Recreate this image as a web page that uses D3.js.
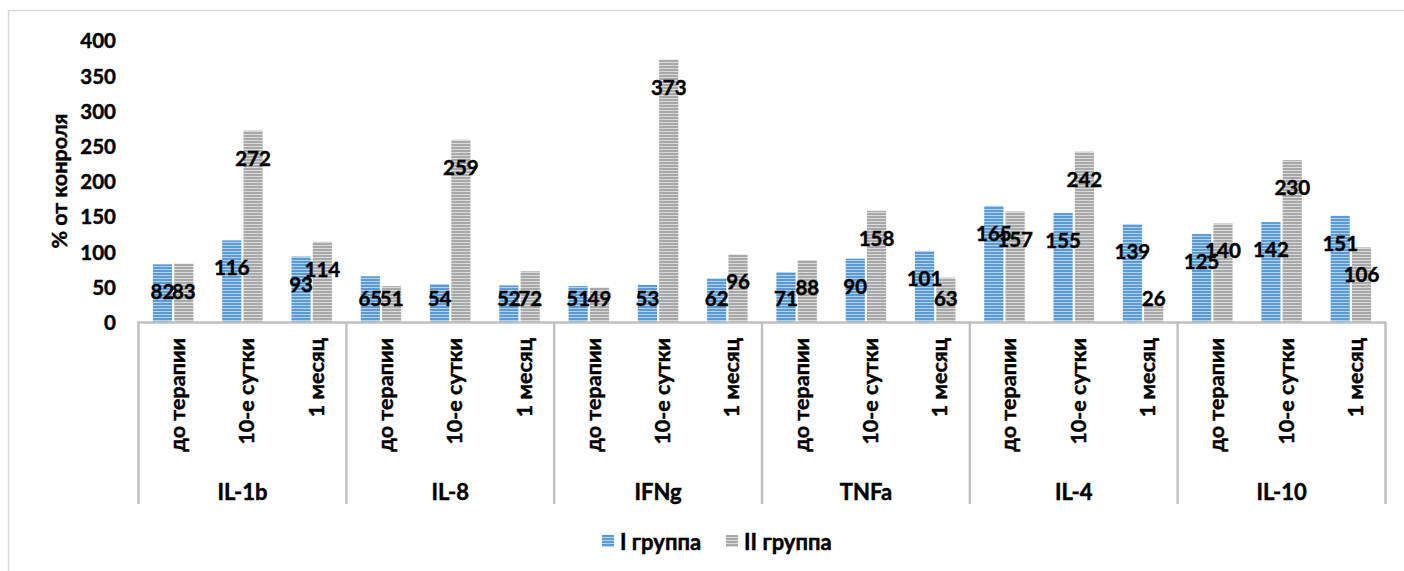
<!DOCTYPE html>
<html>
<head>
<meta charset="utf-8">
<script src="https://cdn.jsdelivr.net/npm/d3@7/dist/d3.min.js"></script>
<style>
  html, body { margin: 0; padding: 0; background: #fff; }
  svg { display: block; }
  text { font-family: Lato, "Open Sans", sans-serif; font-weight: 700; fill: #000;
         stroke: #000; stroke-width: 0.45px; }
</style>
</head>
<body>
<svg id="chart" width="1404" height="571"></svg>
<script>
// Cytokine levels, % of control, by group and time point
const cytokines = ["IL-1b", "IL-8", "IFNg", "TNFa", "IL-4", "IL-10"];
const periods = ["до терапии", "10-е сутки", "1 месяц"];
const seriesNames = ["I группа", "II группа"];
const groupI  = [82, 116, 93,  65, 54, 52,  51, 53, 62,  71, 90, 101,  165, 155, 139,  125, 142, 151];
const groupII = [83, 272, 114, 51, 259, 72, 49, 373, 96, 88, 158, 63,  157, 242, 26,   140, 230, 106];
const yTicks = [0, 50, 100, 150, 200, 250, 300, 350, 400];
const yTitle = "% от конроля";

const svg = d3.select("#chart");

// Striped fills for the two series
const defs = svg.append("defs");
function stripes(id, base, light) {
  const p = defs.append("pattern").attr("id", id)
    .attr("patternUnits", "userSpaceOnUse").attr("width", 6).attr("height", 3);
  p.append("rect").attr("width", 6).attr("height", 3).attr("fill", base);
  p.append("rect").attr("y", 2).attr("width", 6).attr("height", 1).attr("fill", light);
}
stripes("stripe-blue", "#5b9bd5", "#b4d1ee");
stripes("stripe-grey", "#a8a8a8", "#dadada");
const fills = ["url(#stripe-blue)", "url(#stripe-grey)"];

// Outer chart frame (top and left edges)
svg.append("path").attr("d", "M8.5,571 V10.5 H1404")
  .attr("fill", "none").attr("stroke", "#d9d9d9").attr("stroke-width", 1.5);

// Flattened categories: one per cytokine × period
const cats = [];
cytokines.forEach(c => periods.forEach(p => cats.push({ cyt: c, per: p })));
cats.forEach((d, i) => { d.i = i; d.v = [groupI[i], groupII[i]]; });

const x = d3.scaleBand().domain(d3.range(cats.length)).range([138.5, 1385.5]);
const xs = d3.scaleBand().domain([0, 1]).range([0, 40.5]).paddingInner(0.1);
const y = d3.scaleLinear().domain([0, 400]).range([322, 40.5]);
const pairOffset = (x.bandwidth() - xs.range()[1]) / 2;

// Y axis: labels only
const yAxis = d3.axisLeft(y).tickValues(yTicks).tickSize(0).tickPadding(0);
const yg = svg.append("g").attr("transform", "translate(116,0)").call(yAxis);
yg.select(".domain").remove();
yg.selectAll("text").attr("font-size", 20.5).attr("font-family", null).attr("dy", "0.36em");

svg.append("text").attr("transform", "translate(59,181) rotate(-90)")
  .attr("text-anchor", "middle").attr("dominant-baseline", "central")
  .attr("font-size", 21.5).text(yTitle);

// Bars
const catG = svg.append("g").selectAll("g").data(cats).join("g")
  .attr("transform", d => `translate(${x(d.i) + pairOffset},0)`);
catG.selectAll("rect").data(d => d.v.map((v, s) => ({ v, s }))).join("rect")
  .attr("x", d => xs(d.s)).attr("width", xs.bandwidth())
  .attr("y", d => y(d.v)).attr("height", d => y(0) - y(d.v))
  .attr("fill", d => fills[d.s]);

// Value labels at the inside end of each bar, kept above the axis
catG.selectAll("text.val").data(d => d.v.map((v, s) => ({ v, s }))).join("text")
  .attr("class", "val")
  .attr("x", d => xs(d.s) + xs.bandwidth() / 2)
  .attr("y", d => Math.min(y(d.v) + 27, 298))
  .attr("text-anchor", "middle").attr("dominant-baseline", "central")
  .attr("font-size", 20.5).text(d => d.v);

// Multi-level category axis
const axisColor = "#c0c0c0";
svg.append("line").attr("x1", 137).attr("x2", 1386).attr("y1", 322.5).attr("y2", 322.5)
  .attr("stroke", axisColor).attr("stroke-width", 2.5);
const bounds = d3.range(0, cats.length + 1, periods.length).map(i => i < cats.length ? x(i) : x.range()[1]);
svg.append("g").selectAll("line").data(bounds).join("line")
  .attr("x1", d => d).attr("x2", d => d).attr("y1", 322).attr("y2", 504)
  .attr("stroke", axisColor).attr("stroke-width", 2.5);

svg.append("g").selectAll("text").data(cats).join("text")
  .attr("transform", d => `translate(${x(d.i) + x.bandwidth() / 2 + 4},338) rotate(-90)`)
  .attr("text-anchor", "end").attr("dominant-baseline", "central")
  .attr("font-size", 21.5).text(d => d.per);

svg.append("g").selectAll("text").data(cytokines).join("text")
  .attr("x", (d, i) => (bounds[i] + bounds[i + 1]) / 2).attr("y", 491)
  .attr("text-anchor", "middle").attr("dominant-baseline", "central")
  .attr("font-size", 22).text(d => d);

// Legend
const legend = svg.append("g").selectAll("g").data(seriesNames).join("g")
  .attr("transform", (d, i) => `translate(${[602, 726][i]},541)`);
legend.append("rect").attr("x", 0).attr("y", -6).attr("width", 12).attr("height", 12)
  .attr("fill", (d, i) => fills[i]);
legend.append("text").attr("x", 18).attr("dominant-baseline", "central")
  .attr("font-size", 22).text(d => d);
</script>
</body>
</html>
